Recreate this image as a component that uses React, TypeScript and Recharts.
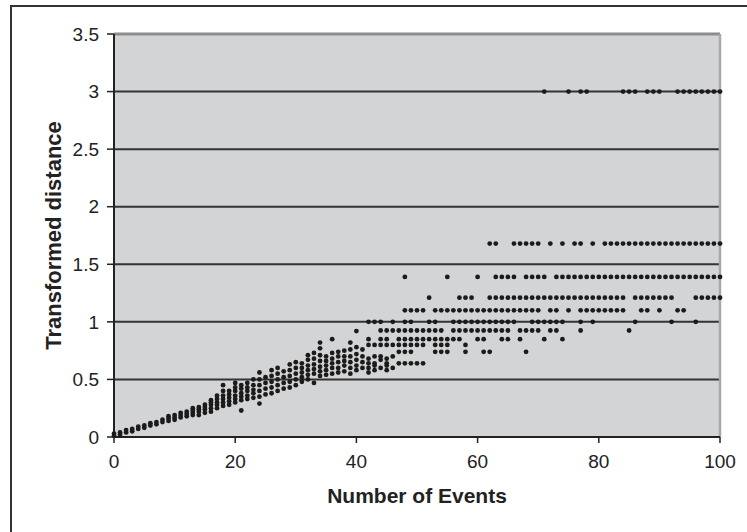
import { ScatterChart, Scatter, XAxis, YAxis, CartesianGrid, ReferenceLine, Label } from "recharts";

// lower band: [events, distances at that count]
const band0to15: [number, number[]][] = [
  [0, [0.01, 0.03]],
  [1, [0.02, 0.04]],
  [2, [0.04, 0.06]],
  [3, [0.05, 0.07]],
  [4, [0.07, 0.09]],
  [5, [0.08, 0.1]],
  [6, [0.1, 0.12]],
  [7, [0.11, 0.13]],
  [8, [0.13, 0.15]],
  [9, [0.14, 0.16, 0.18]],
  [10, [0.15, 0.17, 0.19]],
  [11, [0.17, 0.19, 0.21]],
  [12, [0.18, 0.2, 0.22]],
  [13, [0.19, 0.21, 0.23, 0.25]],
  [14, [0.19, 0.22, 0.24, 0.26]],
  [15, [0.21, 0.24, 0.26, 0.28]],
];

const band16to30: [number, number[]][] = [
  [16, [0.22, 0.25, 0.28, 0.3, 0.32]],
  [17, [0.25, 0.28, 0.3, 0.33, 0.36]],
  [18, [0.27, 0.3, 0.33, 0.36, 0.4, 0.45]],
  [19, [0.28, 0.31, 0.34, 0.37, 0.4]],
  [20, [0.3, 0.33, 0.36, 0.4, 0.43, 0.47]],
  [21, [0.23, 0.32, 0.35, 0.38, 0.42, 0.45]],
  [22, [0.33, 0.36, 0.4, 0.43, 0.47]],
  [23, [0.34, 0.38, 0.41, 0.45, 0.5]],
  [24, [0.29, 0.35, 0.4, 0.45, 0.5, 0.56]],
  [25, [0.37, 0.42, 0.47, 0.52]],
  [26, [0.38, 0.43, 0.48, 0.53, 0.58]],
  [27, [0.4, 0.45, 0.5, 0.55, 0.6]],
  [28, [0.42, 0.47, 0.52, 0.57]],
  [29, [0.43, 0.48, 0.53, 0.58, 0.63]],
  [30, [0.45, 0.5, 0.55, 0.6, 0.65]],
];

const band31to46: [number, number[]][] = [
  [31, [0.48, 0.52, 0.56, 0.6, 0.64]],
  [32, [0.5, 0.54, 0.58, 0.62, 0.67, 0.71]],
  [33, [0.47, 0.55, 0.59, 0.63, 0.68, 0.73]],
  [34, [0.53, 0.57, 0.61, 0.66, 0.71, 0.77, 0.82]],
  [35, [0.54, 0.58, 0.62, 0.66, 0.7]],
  [36, [0.55, 0.6, 0.64, 0.68, 0.73, 0.85]],
  [37, [0.56, 0.6, 0.65, 0.7, 0.74]],
  [38, [0.57, 0.62, 0.66, 0.7, 0.75]],
  [39, [0.55, 0.6, 0.65, 0.7, 0.76, 0.82]],
  [40, [0.58, 0.62, 0.67, 0.72, 0.78, 0.92]],
  [41, [0.6, 0.65, 0.7, 0.76]],
  [42, [0.56, 0.6, 0.68]],
  [43, [0.58, 0.62, 0.7]],
  [44, [0.6, 0.67, 0.7]],
  [45, [0.58, 0.62, 0.68]],
  [46, [0.6, 0.7]],
];

// upper region: distances fall on a few fixed levels, listed by event count
const at300 = [71, 75, 77, 78, 84, 85, 86, 88, 89, 90, 93, 94, 95, 96, 97, 98, 99, 100];
const at168 = [62, 63, 66, 67, 68, 69, 70, 72, 74, 76, 77, 79, 81, 82, 83, 84, 85, 86, 87, 88, 89, 90, 91, 92, 93, 94, 95, 96, 97, 98, 99, 100];
const at139 = [48, 55, 60, 63, 64, 65, 66, 68, 69, 70, 71, 73, 74, 75, 76, 77, 78, 79, 80, 81, 82, 83, 84, 85, 86, 87, 88, 89, 90, 91, 92, 93, 94, 95, 96, 97, 98, 99, 100];
const at121 = [52, 57, 58, 59, 62, 63, 64, 65, 66, 67, 68, 69, 70, 71, 72, 73, 74, 75, 76, 77, 78, 79, 80, 81, 82, 83, 84, 86, 87, 88, 89, 90, 91, 92, 96, 97, 98, 99, 100];
const at110 = [48, 49, 50, 51, 53, 54, 55, 56, 57, 58, 59, 60, 61, 62, 63, 64, 65, 66, 67, 68, 69, 70, 72, 73, 75, 77, 78, 79, 80, 81, 82, 83, 84, 87, 88, 90, 93, 94];
const at100 = [42, 43, 44, 46, 48, 49, 52, 53, 56, 57, 58, 59, 60, 61, 62, 63, 64, 65, 66, 69, 70, 71, 72, 73, 74, 77, 79, 86, 92, 96];
const at093 = [44, 45, 46, 47, 48, 49, 50, 51, 52, 53, 54, 56, 57, 58, 59, 60, 61, 62, 63, 64, 65, 67, 68, 69, 70, 72, 73, 77, 85];
const at085 = [42, 44, 45, 47, 48, 49, 50, 51, 52, 53, 54, 55, 56, 57, 60, 61, 64, 65, 67, 71, 74];
const at080 = [42, 43, 44, 45, 46, 47, 48, 49, 50, 51, 53, 54, 55, 58];
const at074 = [47, 48, 49, 53, 54, 55, 58, 61, 62, 68];
const at064 = [42, 43, 45, 47, 48, 49, 50, 51];

const levels: [number, number[]][] = [
  [3.0, at300],
  [1.68, at168],
  [1.39, at139],
  [1.21, at121],
  [1.1, at110],
  [1.0, at100],
  [0.925, at093],
  [0.85, at085],
  [0.8, at080],
  [0.74, at074],
  [0.64, at064],
];

const xTicks = [0, 20, 40, 60, 80, 100];
const yTicks = [0, 0.5, 1, 1.5, 2, 2.5, 3, 3.5];

const points: { x: number; y: number }[] = [];
for (const [x, ys] of [...band0to15, ...band16to30, ...band31to46]) {
  for (const y of ys) points.push({ x, y });
}
for (const [y, xs] of levels) {
  for (const x of xs) points.push({ x, y });
}

const font = "'Liberation Sans', Arial, sans-serif";

const Dot = (props: any) => <circle cx={props.cx} cy={props.cy} r={2.4} fill="#1b1b1b" />;

export default function App() {
  return (
    <div
      style={{
        position: "fixed",
        left: 0,
        top: 0,
        width: 747,
        height: 532,
        overflow: "hidden",
        background: "#fff",
        fontFamily: font,
      }}
    >
      <div
        style={{
          position: "absolute",
          left: 10,
          top: 5,
          width: 800,
          height: 600,
          borderLeft: "2px solid #333",
          borderTop: "2px solid #333",
        }}
      />
      <div style={{ position: "absolute", left: 0, top: 0 }}>
        <ScatterChart width={747} height={532} margin={{ top: 34, right: 27, bottom: 15, left: 54 }}>
          <CartesianGrid
            vertical={false}
            horizontalValues={[0.5, 1, 1.5, 2, 2.5, 3]}
            stroke="#333"
            strokeWidth={2}
            fill="#d3d4d6"
            fillOpacity={1}
          />
          <XAxis
            type="number"
            dataKey="x"
            domain={[0, 100]}
            ticks={xTicks}
            tickSize={6}
            tickMargin={12}
            height={80}
            axisLine={{ stroke: "#222", strokeWidth: 2 }}
            tickLine={{ stroke: "#222", strokeWidth: 1.5 }}
            tick={{ fill: "#222", fontSize: 19, fontFamily: font }}
          >
            <Label
              value="Number of Events"
              position="insideBottom"
              offset={14}
              style={{ fontSize: 21, fontWeight: "bold", fill: "#222", fontFamily: font }}
            />
          </XAxis>
          <YAxis
            type="number"
            dataKey="y"
            domain={[0, 3.5]}
            ticks={yTicks}
            tickSize={7}
            tickMargin={8}
            width={60}
            axisLine={{ stroke: "#222", strokeWidth: 2 }}
            tickLine={{ stroke: "#222", strokeWidth: 1.5 }}
            tick={{ fill: "#222", fontSize: 19, fontFamily: font }}
          >
            <Label
              value="Transformed distance"
              angle={-90}
              position="insideLeft"
              offset={-1}
              style={{ fontSize: 22, fontWeight: "bold", fill: "#222", fontFamily: font, textAnchor: "middle" }}
            />
          </YAxis>
          <ReferenceLine y={3.5} stroke="#8c8c8c" strokeWidth={3} />
          <ReferenceLine x={100} stroke="#a8a8a8" strokeWidth={2.5} />
          <Scatter data={points} shape={Dot} isAnimationActive={false} />
        </ScatterChart>
      </div>
    </div>
  );
}
